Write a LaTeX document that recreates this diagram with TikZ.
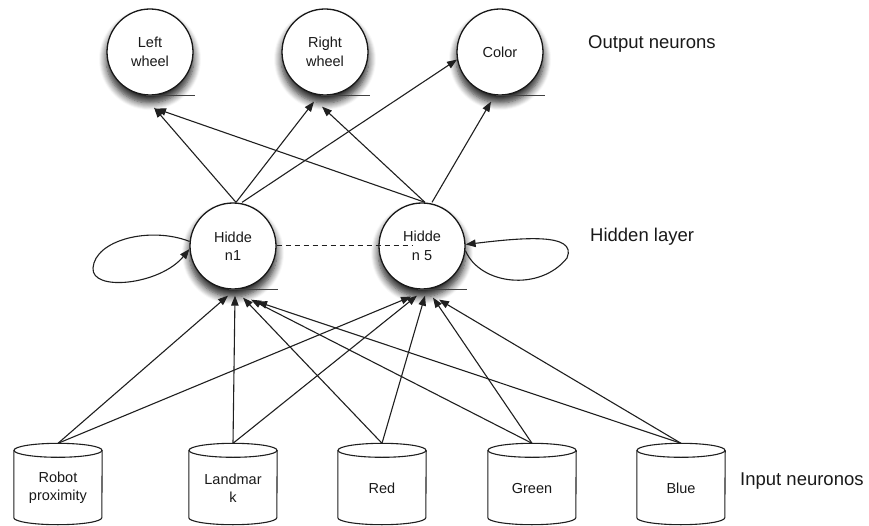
\documentclass[tikz,border=0pt]{standalone}
\usepackage{fontspec}
\setmainfont{Liberation Sans}
\usetikzlibrary{arrows.meta,shadows.blur}
\begin{document}
\begin{tikzpicture}[x=1pt,y=-1pt,
  neuron/.style={circle, draw=black!90, line width=1.3pt, fill=white,
    minimum size=86pt, inner sep=0pt, align=center,
    font=\fontsize{14.5}{18.5}\selectfont, text=black!90,
    blur shadow={shadow xshift=0pt, shadow yshift=-7pt, shadow scale=1.02,
      shadow blur radius=7pt, shadow blur steps=8, shadow opacity=85}},
  tankbox/.style={rectangle, minimum width=88pt, minimum height=81pt,
    inner sep=0pt, align=center, font=\fontsize{14.5}{18.5}\selectfont,
    text=black!90},
  tankline/.style={draw=black!88, line width=1.1pt},
  wire/.style={draw=black!88, line width=1.1pt,
    -{Triangle[length=10pt,width=7.5pt]}},
  shelf/.style={draw=black!75, line width=1pt},
  sidelabel/.style={anchor=west, inner sep=0pt,
    font=\fontsize{18.5}{22}\selectfont, text=black!90}]

\useasboundingbox (0,0) rectangle (869,526);

% output layer
\node[neuron] (lw)  at (150,52) {Left\\wheel};
\node[neuron] (rw)  at (325,52) {Right\\wheel};
\node[neuron] (col) at (500,52) {Color};

% hidden layer
\node[neuron] (h1) at (233,246) {Hidde\\n1};
\node[neuron] (h5) at (422,246) {Hidde\\n 5};

% short base lines under every neuron
\foreach \n in {lw,rw,col,h1,h5}
  \draw[shelf] ([xshift=-4pt]\n.south) -- ([xshift=45pt]\n.south);

% input layer (drawn as cylinders around named boxes)
\node[tankbox] (rob) at (58,484)  {\\Robot\\proximity};
\node[tankbox] (lan) at (233,484) {\\Landmar\\k};
\node[tankbox] (red) at (382,484) {\\Red};
\node[tankbox] (grn) at (532,484) {\\Green};
\node[tankbox] (blu) at (681,484) {\\Blue};
\foreach \n in {rob,lan,red,grn,blu}{
  \draw[tankline] ([yshift=-7pt]\n.north west) -- ([yshift=7pt]\n.south west)
    arc[start angle=180, end angle=360, x radius=44pt, y radius=7pt]
    -- ([yshift=-7pt]\n.north east);
  \draw[tankline] ([yshift=-7pt]\n.north) ellipse[x radius=44pt, y radius=7pt];
}

% layer captions
\node[sidelabel] (capo) at (588,44)  {Output neurons};
\node[sidelabel] (caph) at (590,237) {Hidden layer};
\node[sidelabel] (capi) at (740,481) {Input neuronos};

% inputs to hidden neurons
\draw[wire] (rob.north) -- ([shift={(-5,6)}]h1.south);
\draw[wire] (lan.north) -- ([shift={(2,6)}]h1.south);
\draw[wire] (red.north) -- ([shift={(10,8)}]h1.south);
\draw[wire] (grn.north) -- ([shift={(18,10)}]h1.south);
\draw[wire] (blu.north) -- ([shift={(24,12)}]h1.south);
\draw[wire] (rob.north) -- ([shift={(-11,7)}]h5.south);
\draw[wire] (lan.north) -- ([shift={(-5,6)}]h5.south);
\draw[wire] (red.north) -- ([shift={(3,6)}]h5.south);
\draw[wire] (grn.north) -- ([shift={(11,8)}]h5.south);
\draw[wire] (blu.north) -- ([shift={(17,10)}]h5.south);

% hidden to outputs
\draw[wire] ([xshift=3pt]h1.north) -- ([shift={(4,12)}]lw.south);
\draw[wire] ([xshift=3pt]h1.north) -- ([shift={(-11,6)}]rw.south);
\draw[wire] ([xshift=9pt]h1.north) -- (col.190);
\draw[wire] ([xshift=3pt]h5.north) -- ([shift={(6,13)}]lw.south);
\draw[wire] ([xshift=3pt]h5.north) -- ([shift={(-3,11)}]rw.south);
\draw[wire] ([xshift=10pt]h5.north) -- ([shift={(-9,6)}]col.south);

% link between the hidden neurons
\draw[black!88, line width=1pt, dash pattern=on 5pt off 4pt]
  (h1.east) -- ([xshift=-9pt]h5.center);

% recurrent loops
\coordinate (loopl) at (93,268);
\coordinate (loopr) at (567,258);
\draw[wire] (h1.174) .. controls (150,226) and (95,240) .. (loopl)
  .. controls (91,292) and (160,285) .. (h1.184);
\draw[wire] (h5.-6) .. controls (480,285) and (540,292) .. (loopr)
  .. controls (578,232) and (520,238) .. (h5.2);
\end{tikzpicture}
\end{document}
